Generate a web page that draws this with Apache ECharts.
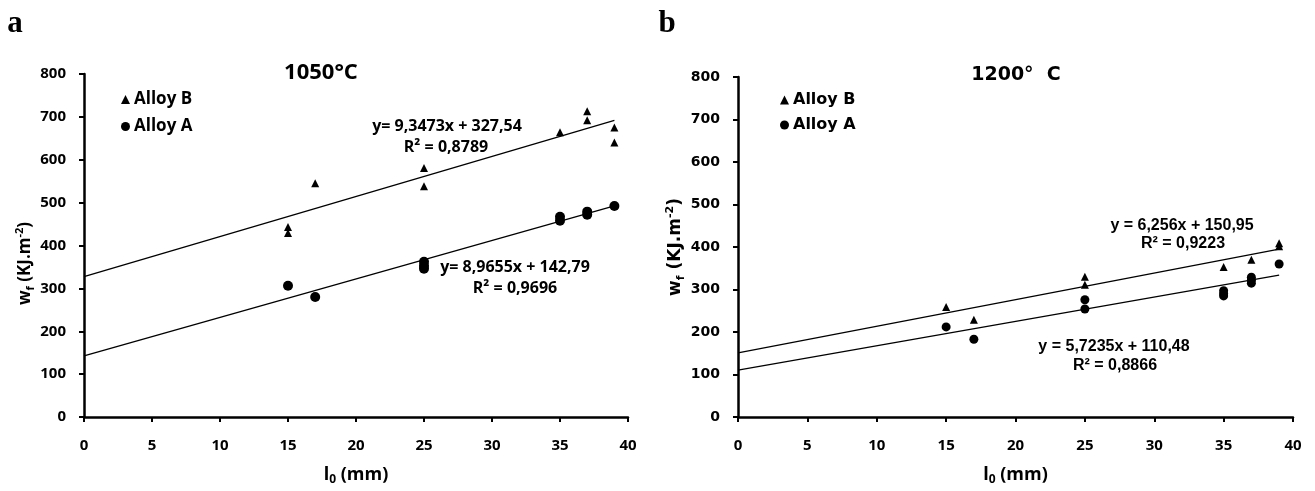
<!DOCTYPE html>
<html>
<head>
<meta charset="utf-8">
<script src="https://cdn.jsdelivr.net/npm/echarts@6/dist/echarts.min.js"></script>
<style>
html,body{margin:0;padding:0;background:#fff;}
#c{width:1315px;height:491px;}
</style>
</head>
<body>
<div id="c"></div>
<script>
// ---- data ----
const xTicks = [0, 5, 10, 15, 20, 25, 30, 35, 40];
const yTicks = [0, 100, 200, 300, 400, 500, 600, 700, 800];

// panel a : 1050°C
const aAlloyB = [[15,443],[15,429],[17,545],[25,581],[25,538],[35,664],[37,713],[37,692],[39,675],[39,640]];
const aAlloyA = [[15,306],[17,280],[25,362],[25,353],[25,346],[35,467],[35,458],[37,479],[37,472],[39,492]];
const aTrendB = [[0,327.54],[39,692.1]];
const aTrendA = [[0,142.79],[39,492.4]];
const aEqB = ['y= 9,3473x + 327,54', 'R² = 0,8789'];
const aEqA = ['y= 8,9655x + 142,79', 'R² = 0,9696'];

// panel b : 1200°C
const bAlloyB = [[15,259],[17,229],[25,330],[25,311],[35,353],[37,370],[39,409],[39,402]];
const bAlloyA = [[15,212],[17,183],[25,276],[25,254],[35,297],[35,290],[35,285],[37,329],[37,322],[37,315],[39,360]];
const bTrendB = [[0,150.95],[39,394.93]];
const bTrendA = [[0,110.48],[39,333.7]];
const bEqB = ['y = 6,256x + 150,95', 'R² = 0,9223'];
const bEqA = ['y = 5,7235x + 110,48', 'R² = 0,8866'];

const seriesNames = ['Alloy B', 'Alloy A'];

// ---- styling ----
const CAL = '"Open Sans", Lato, sans-serif';
const ARI = '"DejaVu Sans", "Liberation Sans", sans-serif';
const ARN = '"Liberation Sans", Arial, sans-serif';

function xAxisCfg(idx, labelFont) {
  return {
    gridIndex: idx, type: 'value', min: 0, max: 40, interval: 5,
    axisLine: {onZero: false, lineStyle: {color: '#000', width: 2.5}},
    axisTick: {inside: false, length: 5, lineStyle: {color: '#000', width: 2}},
    splitLine: {show: false},
    axisLabel: {color: '#000', fontFamily: labelFont, fontWeight: 'bold', fontSize: 15, margin: 21},
    name: '{a|l}{s|0}{a| (mm)}',
    nameLocation: 'middle',
    nameGap: 47,
    nameTextStyle: {
      rich: {
        a: {fontFamily: CAL, fontWeight: 'bold', fontSize: 18, color: '#000', lineHeight: 22},
        s: {fontFamily: CAL, fontWeight: 'bold', fontSize: 12, color: '#000', lineHeight: 12, verticalAlign: 'bottom'}
      }
    }
  };
}
function yAxisCfg(idx, labelFont, labelSize, nameFont, nameSize, nameGap, namePad) {
  return {
    gridIndex: idx, type: 'value', min: 0, max: 800, interval: 100,
    axisLine: {show: true, onZero: false, lineStyle: {color: '#000', width: 2.5}},
    axisTick: {show: true, inside: false, length: 5, lineStyle: {color: '#000', width: 2}},
    splitLine: {show: false},
    axisLabel: {color: '#000', fontFamily: labelFont, fontWeight: 'bold', fontSize: labelSize, margin: 18},
    name: '{a|w}{s|f}{a| (KJ.m}{p|-2}{a|)}',
    nameLocation: 'middle',
    nameGap: nameGap,
    nameRotate: 90,
    nameTextStyle: {
      padding: namePad,
      rich: {
        a: {fontFamily: nameFont, fontWeight: 'bold', fontSize: nameSize, color: '#000', lineHeight: 22},
        s: {fontFamily: nameFont, fontWeight: 'bold', fontSize: 11, color: '#000', lineHeight: 12, verticalAlign: 'bottom'},
        p: {fontFamily: nameFont, fontWeight: 'bold', fontSize: 11, color: '#000', lineHeight: 12, verticalAlign: 'top'}
      }
    }
  };
}
function scatter(name, data, idx, symbol, size) {
  return {
    name: name, type: 'scatter', xAxisIndex: idx, yAxisIndex: idx,
    data: data, symbol: symbol, symbolSize: size,
    itemStyle: {color: '#000', opacity: 1}, z: 3
  };
}
function trend(data, idx) {
  return {
    name: 'trend' + idx, type: 'line', xAxisIndex: idx, yAxisIndex: idx,
    data: data, showSymbol: false, symbol: 'none', silent: true,
    lineStyle: {color: '#000', width: 1.3}, z: 2
  };
}
function txt(x, y, text, font, size) {
  return {
    type: 'text', x: x, y: y, silent: true,
    style: {text: text, fill: '#000', font: 'bold ' + size + 'px ' + font, align: 'center', verticalAlign: 'middle'}
  };
}

const chart = echarts.init(document.getElementById('c'), null, {renderer: 'canvas'});
chart.setOption({
  backgroundColor: '#fff',
  animation: false,
  grid: [
    {left: 84, top: 74, width: 544, height: 343},
    {left: 738, top: 77, width: 555, height: 350}
  ],
  xAxis: [xAxisCfg(0, CAL), xAxisCfg(1, CAL)],
  yAxis: [
    yAxisCfg(0, CAL, 15, CAL, 17, 45, [0, 36, 0, 0]),
    yAxisCfg(1, ARI, 14, ARI, 17, 50, [0, 0, 0, 0])
  ],
  legend: [
    {
      orient: 'vertical', left: 116, top: 86, itemGap: 10,
      itemWidth: 9, itemHeight: 9,
      data: [{name: seriesNames[0], icon: 'triangle', itemStyle: {opacity: 1}}, {name: seriesNames[1], icon: 'circle', itemStyle: {opacity: 1}}],
      textStyle: {fontFamily: CAL, fontWeight: 'bold', fontSize: 17, color: '#000', padding: [0, 0, 0, -1]},
      selectedMode: false
    },
    {
      orient: 'vertical', left: 775, top: 87, itemGap: 9,
      itemWidth: 9, itemHeight: 9,
      data: [{name: seriesNames[0], icon: 'triangle', itemStyle: {opacity: 1}}, {name: seriesNames[1], icon: 'circle', itemStyle: {opacity: 1}}],
      textStyle: {fontFamily: ARI, fontWeight: 'bold', fontSize: 16, color: '#000', padding: [0, 0, 0, -1]},
      selectedMode: false
    }
  ],
  series: [
    scatter(seriesNames[0], aAlloyB, 0, 'triangle', [8, 8]),
    scatter(seriesNames[1], aAlloyA, 0, 'circle', 10),
    trend(aTrendB, 0),
    trend(aTrendA, 0),
    scatter(seriesNames[0], bAlloyB, 1, 'triangle', [8, 8]),
    scatter(seriesNames[1], bAlloyA, 1, 'circle', 9),
    trend(bTrendB, 1),
    trend(bTrendA, 1)
  ],
  graphic: [
    txt(15, 24, 'a', '"Liberation Serif", "Times New Roman", serif', 31),
    txt(667, 24, 'b', '"Liberation Serif", "Times New Roman", serif', 31),
    txt(321, 73, '1050°C', CAL, 22),
    txt(1016, 75, '1200°  C', ARI, 19),
    txt(447, 126, aEqB[0], CAL, 16),
    txt(446, 147, aEqB[1], CAL, 16),
    txt(515, 267, aEqA[0], CAL, 16),
    txt(515, 288, aEqA[1], CAL, 16),
    txt(1182, 226, bEqB[0], ARN, 16),
    txt(1183, 244, bEqB[1], ARN, 16),
    txt(1114, 347, bEqA[0], ARN, 16),
    txt(1115, 366, bEqA[1], ARN, 16)
  ]
});
</script>
</body>
</html>
